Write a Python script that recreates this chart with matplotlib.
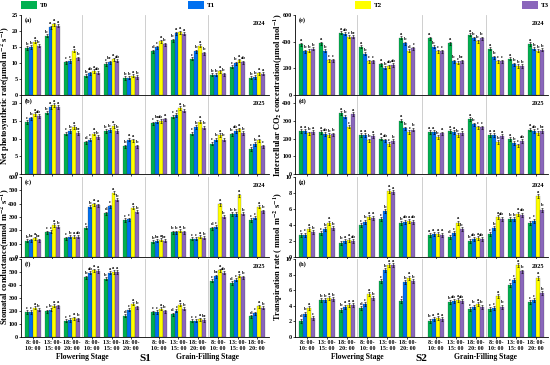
import numpy as np
import matplotlib.pyplot as plt
from matplotlib.patches import Patch
from matplotlib.transforms import blended_transform_factory

plt.rcParams['font.family'] = ['Liberation Serif', 'DejaVu Serif']
plt.rcParams['font.weight'] = 'bold'
plt.rcParams['mathtext.fontset'] = 'stix'
plt.rcParams['mathtext.default'] = 'bf'

treatments = ['T0', 'T1', 'T2', 'T3']
colors = ['#00b050', '#0070f0', '#ffff00', '#8a66bb']
time_labels = ['8: 00-\n10: 00', '13: 00-\n15: 00', '18: 00-\n20: 00'] * 4

# Net photosynthetic rate, rows = T0..T3, 12 groups
pn_2024 = [
    [14.7, 18.5, 10.2, 6.0, 9.7, 5.3, 13.7, 17.1, 11.3, 6.4, 8.8, 5.4],
    [15.0, 21.2, 10.6, 6.8, 10.2, 5.4, 14.9, 19.3, 13.6, 6.3, 9.9, 5.6],
    [16.6, 22.1, 13.9, 7.5, 11.2, 6.0, 16.8, 19.6, 15.4, 7.4, 10.9, 6.8],
    [15.4, 21.6, 11.5, 7.0, 10.7, 5.6, 15.8, 19.1, 13.0, 6.5, 10.2, 6.6],
]
pn_2024_sig = ['b b a b', 'b a a a', 'c c a b', 'b ab a ab', 'c bc a ab', 'b b a b',
               'd c a b', 'b a a a', 'c b a b', 'b b a b', 'c b a ab', 'b b a a']
pn_2025 = [
    [14.6, 17.3, 11.4, 8.9, 12.1, 7.8, 14.3, 16.2, 11.4, 8.6, 11.2, 7.1],
    [15.7, 18.9, 12.2, 9.7, 12.4, 9.7, 14.8, 16.6, 13.3, 9.7, 12.2, 8.4],
    [16.9, 19.5, 13.3, 11.4, 13.6, 9.5, 15.0, 18.6, 14.8, 11.0, 12.6, 9.5],
    [16.4, 18.9, 11.6, 10.5, 12.2, 7.8, 15.4, 17.9, 13.1, 9.7, 11.6, 7.8],
]
pn_2025_sig = ['c b a ab', 'b a a a', 'c b a bc', 'd c a b', 'b b a b', 'b a a b',
               'c bc ab a', 'c c a b', 'c b a b', 'c b a b', 'b ab a b', 'c b a c']

# Intercellular CO2 concentration
ci_2024 = [
    [380, 387, 467, 363, 230, 431, 424, 387, 453, 346, 271, 382],
    [327, 332, 460, 310, 206, 387, 363, 254, 424, 283, 230, 346],
    [332, 259, 436, 254, 215, 332, 327, 242, 404, 254, 218, 332],
    [346, 261, 436, 254, 225, 351, 327, 254, 424, 254, 218, 339],
]
ci_2024_sig = ['a b b b', 'a b c c', 'a ab c bc', 'a b c c', 'a b ab ab', 'a b d c',
               'a b c c', 'a b c bc', 'a b b b', 'a b c c', 'a b b b', 'a b b b']
ci_2025 = [
    [244, 236, 343, 219, 200, 301, 238, 244, 310, 221, 196, 251],
    [244, 227, 324, 219, 190, 257, 238, 238, 280, 221, 175, 244],
    [229, 219, 267, 190, 168, 238, 210, 219, 263, 181, 162, 232],
    [238, 223, 339, 215, 187, 251, 229, 232, 263, 213, 185, 242],
]
ci_2025_sig = ['a a b a', 'a ab b b', 'a b c a', 'a a b a', 'a ab c b', 'a b c b',
               'a a b a', 'a a b a', 'a b c c', 'a a b a', 'a b c ab', 'a ab c bc']

# Stomatal conductance
gs_2024 = [
    [121, 186, 141, 220, 327, 277, 116, 186, 136, 215, 322, 277],
    [126, 191, 151, 376, 381, 282, 121, 186, 136, 228, 322, 295],
    [141, 240, 153, 394, 483, 369, 129, 196, 153, 394, 463, 376],
    [124, 228, 151, 389, 431, 339, 121, 186, 146, 302, 324, 344],
]
gs_2024_sig = ['b bc a bc', 'c c a b', 'c b a ab', 'c b a a', 'd c a b', 'c c a b',
               'b bc a bc', 'b b a b', 'c c a b', 'd c a b', 'b b a b', 'c c a b']
gs_2025 = [
    [192, 197, 124, 460, 447, 163, 189, 176, 124, 434, 415, 158],
    [192, 210, 131, 494, 494, 210, 192, 202, 124, 468, 442, 184],
    [224, 242, 145, 513, 500, 255, 218, 250, 137, 513, 473, 237],
    [210, 237, 137, 508, 500, 229, 197, 216, 131, 494, 460, 224],
]
gs_2025_sig = ['c c a b', 'c b a a', 'c c a b', 'b ab a a', 'b a a a', 'd c a b',
               'c c a b', 'd c a b', 'c c a bc', 'c bc a ab', 'd c a b', 'd c a b']

# Transpiration rate
tr_2024 = [
    [2.7, 3.0, 1.8, 4.0, 4.7, 4.2, 2.7, 2.55, 2.0, 2.85, 4.7, 4.3],
    [2.8, 3.5, 2.0, 4.4, 5.7, 4.4, 2.85, 2.95, 2.2, 3.6, 4.7, 4.55],
    [3.5, 4.3, 2.15, 5.0, 8.3, 4.5, 2.85, 4.3, 2.35, 5.0, 5.4, 7.6],
    [3.1, 3.6, 2.0, 4.9, 8.1, 4.4, 2.8, 3.5, 2.25, 4.8, 5.3, 5.9],
]
tr_2024_sig = ['c c a b', 'c b a b', 'b a a ab', 'c b a a', 'c b a a', 'b ab a ab',
               'a a a a', 'd c a b', 'b ab a ab', 'c b a ab', 'b b a ab', 'c c a b']
tr_2025 = [
    [2.1, 4.7, 3.5, 3.7, 7.2, 4.6, 2.1, 4.5, 3.6, 3.6, 6.7, 4.5],
    [3.0, 4.75, 3.9, 4.2, 8.6, 7.0, 2.3, 4.6, 3.9, 3.7, 7.3, 4.7],
    [3.7, 5.0, 4.1, 5.5, 9.2, 7.6, 2.4, 4.75, 4.2, 5.2, 9.2, 7.6],
    [2.4, 4.85, 4.1, 5.0, 9.2, 7.2, 2.3, 4.6, 3.9, 3.9, 8.4, 5.6],
]
tr_2025_sig = ['d b a c', 'b b a b', 'b a a a', 'd c a b', 'c b a a', 'c b a b',
               'b a a a', 'b ab a ab', 'c b a b', 'c c a b', 'c c a b', 'c c a b']

# panel: (data, letters, label, year, ylim, ytick step, error size)
panels = {
    (0, 0): (pn_2024, pn_2024_sig, '(a)', '2024', 25, 5, 0.5),
    (1, 0): (pn_2025, pn_2025_sig, '(b)', '2025', 22, 5, 0.5),
    (2, 0): (gs_2024, gs_2024_sig, '(c)', '2024', 600, 100, 12),
    (3, 0): (gs_2025, gs_2025_sig, '(f)', '2025', 600, 100, 12),
    (0, 1): (ci_2024, ci_2024_sig, '(e)', '2024', 600, 200, 12),
    (1, 1): (ci_2025, ci_2025_sig, '(d)', '2025', 440, 100, 10),
    (2, 1): (tr_2024, tr_2024_sig, '(g)', '2024', 10, 2, 0.25),
    (3, 1): (tr_2025, tr_2025_sig, '(h)', '2025', 10, 2, 0.25),
}

W, H = 550, 365
fig = plt.figure(figsize=(W / 100, H / 100), dpi=100)

col_x = [(21, 269), (295, 548)]
row_y = [(15, 95), (96, 174), (177, 257), (259, 337)]

x = np.array([i if i < 6 else i + 0.4 for i in range(12)], dtype=float)
bw = 0.2
offsets = np.array([-1.5, -0.5, 0.5, 1.5]) * bw

for (r, c), (vals, sig, lab, year, ymax, step, err) in panels.items():
    x0, x1 = col_x[c]
    yt, yb = row_y[r]
    ax = fig.add_axes([x0 / W, 1 - yb / H, (x1 - x0) / W, (yb - yt) / H])
    for xl in [2.5, 5.7, 8.9]:
        ax.axvline(xl, color='#c8c8c8', lw=0.6, zorder=0)
    for k in range(4):
        v = np.array(vals[k], dtype=float)
        ax.bar(x + offsets[k], v, bw, color=colors[k], edgecolor='#333333', linewidth=0.15,
               yerr=err, error_kw=dict(elinewidth=0.4, capsize=0.8, capthick=0.4, ecolor='black'),
               zorder=2)
        for g in range(12):
            ax.text(x[g] + offsets[k], v[g] + err + ymax * 0.005, sig[g].split()[k],
                    ha='center', va='bottom', fontsize=3.3, zorder=3)
    ax.set_xlim(-0.6, 12.0)
    ax.set_ylim(0, ymax)
    ax.set_yticks(np.arange(0, ymax + 0.01, step))
    ax.tick_params(axis='y', labelsize=4.4, length=1.5, width=0.5, pad=0.8)
    ax.tick_params(axis='x', labelsize=4.3, length=1.5, width=0.5, pad=1)
    ax.set_xticks(x)
    if r == 3:
        ax.set_xticklabels(time_labels, linespacing=1.1)
    else:
        ax.set_xticklabels([])
    for s in ['top', 'right']:
        ax.spines[s].set_visible(False)
    for s in ['left', 'bottom']:
        ax.spines[s].set_linewidth(0.6)
    ax.text(0.015, 0.97, lab, transform=ax.transAxes, ha='left', va='top', fontsize=4.5)
    ax.text(0.985, 0.93, year, transform=ax.transAxes, ha='right', va='top', fontsize=4.5)
    if r == 3:
        tr = blended_transform_factory(ax.transData, ax.transAxes)
        ax.text(2.5, -0.26, 'Flowering Stage', transform=tr, ha='center', va='center', fontsize=5.5)
        ax.text(8.9, -0.26, 'Grain-Filling Stage', transform=tr, ha='center', va='center', fontsize=5.5)
        ax.text(5.7, -0.27, 'S1' if c == 0 else 'S2', transform=tr, ha='center', va='center', fontsize=8)

# y-axis titles spanning two panels
fig.text(5.5 / W, 1 - 95 / H, 'Net photosynthetic rate(μmol m$^{-2}$ s$^{-1}$)',
         rotation=90, ha='center', va='center', fontsize=6)
fig.text(5.5 / W, 1 - 257 / H, 'Stomatal conductance(mmol m$^{-2}$ s$^{-1}$)',
         rotation=90, ha='center', va='center', fontsize=6)
fig.text(278.5 / W, 1 - 95 / H, 'Intercellular CO$_2$ concentration(μmol mol$^{-1}$)',
         rotation=90, ha='center', va='center', fontsize=6)
fig.text(278.5 / W, 1 - 257 / H, 'Transpiration rate ( mmol m$^{-2}$ s$^{-1}$)',
         rotation=90, ha='center', va='center', fontsize=6)

handles = [Patch(facecolor=colors[k], edgecolor='none', label=treatments[k]) for k in range(4)]
fig.legend(handles=handles, ncol=4, loc='upper left', bbox_to_anchor=(20 / W, 1.0, 530 / W, 0),
           mode='expand', frameon=False, fontsize=5, handlelength=2.2, handleheight=1.2,
           handletextpad=0.4, borderpad=0.2, borderaxespad=0)

fig.savefig('out.png', dpi=100)
